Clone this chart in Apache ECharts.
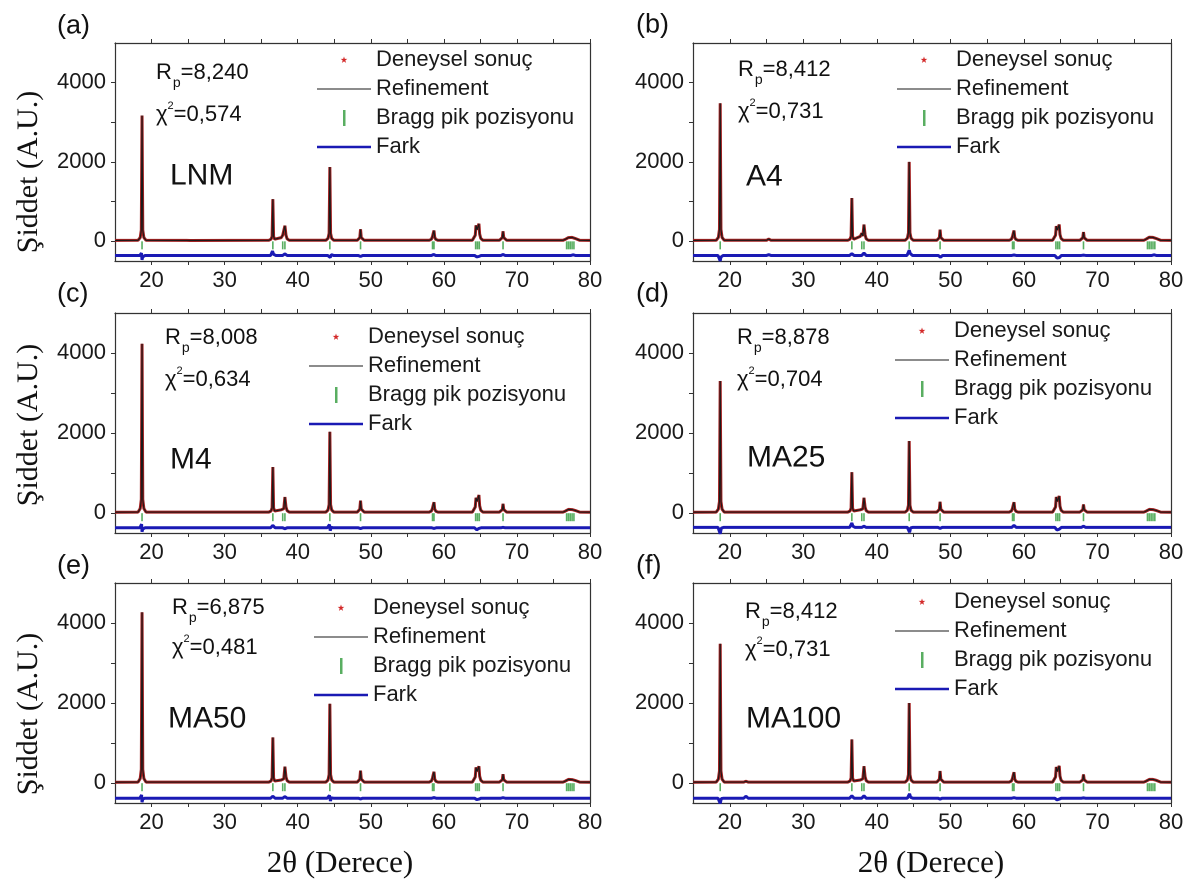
<!DOCTYPE html>
<html>
<head>
<meta charset="utf-8">
<script src="https://cdn.jsdelivr.net/npm/echarts@6/dist/echarts.min.js"></script>
<style>html,body{margin:0;padding:0;background:#fff}#chart{width:1187px;height:881px}</style>
</head>
<body>
<div id="chart"></div>
<script>
// ---------------- data ----------------
const xTickLabels = [20, 30, 40, 50, 60, 70, 80];
const xTickMarks = [20, 25, 30, 35, 40, 45, 50, 55, 60, 65, 70, 75, 80];
const yTickLabels = [0, 2000, 4000];
const yTickMarks = [0, 1000, 2000, 3000, 4000];
const xRange = [15, 80];
const yRange = [-500, 5000];

const legendNames = ['Deneysel sonuç', 'Refinement', 'Bragg pik pozisyonu', 'Fark'];
const panelLetters = ['(a)', '(b)', '(c)', '(d)', '(e)', '(f)'];
const sampleNames = ['LNM', 'A4', 'M4', 'MA25', 'MA50', 'MA100'];
const rpValues = ['8,240', '8,412', '8,008', '8,878', '6,875', '8,412'];
const chi2Values = ['0,574', '0,731', '0,634', '0,704', '0,481', '0,731'];

const braggPositions = [18.7, 36.6, 37.95, 38.25, 44.4, 48.6, 58.45, 58.65, 64.35, 64.6, 64.85, 68.1, 76.8, 77.05, 77.3, 77.55, 77.8];
const braggLevel = -105;

const profileLNM = [
  [15,20],
  [18.15,22],[18.45,90],[18.6,280],[18.7,3170],[18.8,280],[18.95,90],[19.25,22],
  [24.8,20],[25.3,18],
  [36.05,22],[36.35,50],[36.5,120],[36.6,1060],[36.7,120],[36.85,50],
  [37.75,90],[37.95,150],[38.1,110],[38.25,390],[38.4,150],[38.55,60],[38.85,22],
  [43.85,22],[44.15,70],[44.3,200],[44.4,1870],[44.5,200],[44.65,70],[44.95,22],
  [48.15,22],[48.4,45],[48.5,90],[48.6,300],[48.7,90],[48.85,45],[49.1,22],
  [58.0,22],[58.3,50],[58.45,120],[58.55,200],[58.65,270],[58.75,100],[58.9,45],[59.2,22],
  [63.9,22],[64.15,60],[64.3,150],[64.4,400],[64.55,290],[64.65,350],[64.8,440],[64.9,180],[65.05,70],[65.35,22],
  [67.6,22],[67.85,45],[68.0,90],[68.1,250],[68.2,90],[68.35,45],[68.6,22],
  [76.3,22],[76.6,45],[76.85,80],[77.05,90],[77.3,75],[77.55,95],[77.75,110],[77.95,70],[78.2,40],[78.6,22],
  [80,20]
];
const profileA4 = [
  [15,20],
  [18.15,22],[18.45,95],[18.6,300],[18.7,3480],[18.8,300],[18.95,95],[19.25,22],
  [25.0,22],[25.3,55],[25.6,22],
  [36.05,22],[36.35,50],[36.5,125],[36.6,1090],[36.7,125],[36.85,50],
  [37.75,120],[37.95,200],[38.1,130],[38.25,420],[38.4,160],[38.55,60],[38.85,22],
  [43.85,22],[44.15,75],[44.3,210],[44.4,2000],[44.5,210],[44.65,75],[44.95,22],
  [48.15,22],[48.4,45],[48.5,90],[48.6,290],[48.7,90],[48.85,45],[49.1,22],
  [58.0,22],[58.3,50],[58.45,120],[58.55,200],[58.65,270],[58.75,100],[58.9,45],[59.2,22],
  [63.9,22],[64.15,60],[64.3,150],[64.4,380],[64.55,280],[64.65,330],[64.8,420],[64.9,170],[65.05,70],[65.35,22],
  [67.6,22],[67.85,45],[68.0,85],[68.1,230],[68.2,85],[68.35,45],[68.6,22],
  [76.3,22],[76.6,50],[76.85,85],[77.05,100],[77.3,80],[77.55,95],[77.75,110],[77.95,70],[78.2,40],[78.6,22],
  [80,20]
];
const profileM4 = [
  [15,20],
  [18.15,22],[18.45,110],[18.6,340],[18.7,4230],[18.8,340],[18.95,110],[19.25,22],
  [36.05,22],[36.35,50],[36.5,130],[36.6,1150],[36.7,130],[36.85,50],
  [37.75,80],[37.95,130],[38.1,110],[38.25,400],[38.4,150],[38.55,60],[38.85,22],
  [43.85,22],[44.15,75],[44.3,210],[44.4,2030],[44.5,210],[44.65,75],[44.95,22],
  [48.15,22],[48.4,45],[48.5,95],[48.6,310],[48.7,95],[48.85,45],[49.1,22],
  [58.0,22],[58.3,50],[58.45,120],[58.55,200],[58.65,270],[58.75,100],[58.9,45],[59.2,22],
  [63.9,22],[64.15,60],[64.3,150],[64.4,380],[64.55,290],[64.65,350],[64.8,450],[64.9,180],[65.05,70],[65.35,22],
  [67.6,22],[67.85,45],[68.0,85],[68.1,230],[68.2,85],[68.35,45],[68.6,22],
  [76.3,22],[76.6,45],[76.85,75],[77.05,90],[77.3,72],[77.55,85],[77.75,100],[77.95,65],[78.2,40],[78.6,22],
  [80,20]
];
const profileMA25 = [
  [15,20],
  [18.15,22],[18.45,95],[18.6,290],[18.7,3300],[18.8,290],[18.95,95],[19.25,22],
  [36.05,22],[36.35,50],[36.5,120],[36.6,1020],[36.7,120],[36.85,50],
  [37.75,80],[37.95,130],[38.1,105],[38.25,380],[38.4,145],[38.55,60],[38.85,22],
  [43.85,22],[44.15,70],[44.3,195],[44.4,1800],[44.5,195],[44.65,70],[44.95,22],
  [48.15,22],[48.4,45],[48.5,90],[48.6,280],[48.7,90],[48.85,45],[49.1,22],
  [58.0,22],[58.3,50],[58.45,120],[58.55,200],[58.65,270],[58.75,100],[58.9,45],[59.2,22],
  [63.9,22],[64.15,60],[64.3,150],[64.4,400],[64.55,290],[64.65,340],[64.8,425],[64.9,170],[65.05,70],[65.35,22],
  [67.6,22],[67.85,45],[68.0,80],[68.1,215],[68.2,80],[68.35,45],[68.6,22],
  [76.3,22],[76.6,45],[76.85,75],[77.05,90],[77.3,72],[77.55,85],[77.75,100],[77.95,65],[78.2,40],[78.6,22],
  [80,20]
];
const profileMA50 = [
  [15,20],
  [18.15,22],[18.45,110],[18.6,340],[18.7,4270],[18.8,340],[18.95,110],[19.25,22],
  [36.05,22],[36.35,50],[36.5,130],[36.6,1140],[36.7,130],[36.85,50],
  [37.75,75],[37.95,120],[38.1,105],[38.25,410],[38.4,150],[38.55,60],[38.85,22],
  [43.85,22],[44.15,75],[44.3,210],[44.4,1980],[44.5,210],[44.65,75],[44.95,22],
  [48.15,22],[48.4,45],[48.5,95],[48.6,310],[48.7,95],[48.85,45],[49.1,22],
  [58.0,22],[58.3,50],[58.45,125],[58.55,210],[58.65,280],[58.75,100],[58.9,45],[59.2,22],
  [63.9,22],[64.15,60],[64.3,150],[64.4,390],[64.55,290],[64.65,340],[64.8,420],[64.9,170],[65.05,70],[65.35,22],
  [67.6,22],[67.85,45],[68.0,80],[68.1,220],[68.2,80],[68.35,45],[68.6,22],
  [76.3,22],[76.6,45],[76.85,75],[77.05,90],[77.3,72],[77.55,85],[77.75,100],[77.95,65],[78.2,40],[78.6,22],
  [80,20]
];
const profileMA100 = [
  [15,20],
  [18.15,22],[18.45,95],[18.6,300],[18.7,3480],[18.8,300],[18.95,95],[19.25,22],
  [21.9,22],[22.2,45],[22.5,22],
  [36.05,22],[36.35,50],[36.5,125],[36.6,1090],[36.7,125],[36.85,50],
  [37.75,75],[37.95,120],[38.1,105],[38.25,420],[38.4,155],[38.55,60],[38.85,22],
  [43.85,22],[44.15,75],[44.3,210],[44.4,2000],[44.5,210],[44.65,75],[44.95,22],
  [48.15,22],[48.4,45],[48.5,92],[48.6,300],[48.7,92],[48.85,45],[49.1,22],
  [58.0,22],[58.3,50],[58.45,120],[58.55,200],[58.65,270],[58.75,100],[58.9,45],[59.2,22],
  [63.9,22],[64.15,60],[64.3,150],[64.4,400],[64.55,290],[64.65,345],[64.8,430],[64.9,175],[65.05,70],[65.35,22],
  [67.6,22],[67.85,45],[68.0,80],[68.1,215],[68.2,80],[68.35,45],[68.6,22],
  [76.3,22],[76.6,45],[76.85,75],[77.05,90],[77.3,75],[77.55,90],[77.75,110],[77.95,70],[78.2,40],[78.6,22],
  [80,20]
];

const diffLNM = [[15,-360],[18.4,-360],[18.62,-300],[18.7,-470],[18.78,-400],[19.1,-360],[36.3,-360],[36.55,-250],[36.7,-330],[37.0,-360],[37.95,-360],[38.25,-320],[38.55,-360],[44.1,-360],[44.35,-320],[44.45,-410],[44.6,-340],[44.9,-360],[48.3,-360],[48.6,-385],[48.9,-360],[58.3,-360],[58.6,-335],[58.9,-360],[64.2,-360],[64.5,-395],[64.8,-385],[65.1,-360],[67.8,-360],[68.1,-335],[68.4,-360],[77.4,-360],[77.7,-345],[78.0,-360],[80,-360]];
const diffA4 = [[15,-360],[18.4,-360],[18.62,-310],[18.7,-500],[18.8,-400],[19.1,-360],[25.0,-360],[25.3,-340],[25.6,-360],[36.3,-360],[36.6,-315],[36.9,-360],[37.95,-360],[38.25,-300],[38.55,-360],[44.1,-360],[44.4,-230],[44.55,-310],[44.85,-360],[48.35,-360],[48.65,-405],[48.95,-360],[58.35,-360],[58.65,-348],[58.95,-360],[64.2,-360],[64.5,-425],[64.8,-415],[65.1,-360],[67.8,-360],[68.1,-352],[68.4,-360],[77.4,-360],[77.7,-345],[78.0,-360],[80,-360]];
const diffM4 = [[15,-370],[18.4,-370],[18.64,-280],[18.7,-470],[18.8,-400],[19.1,-370],[36.3,-370],[36.6,-310],[36.9,-370],[37.95,-370],[38.25,-392],[38.55,-370],[44.05,-370],[44.35,-290],[44.45,-440],[44.6,-360],[44.9,-370],[48.3,-370],[48.6,-388],[48.9,-370],[58.35,-370],[58.65,-385],[58.95,-370],[64.2,-370],[64.5,-420],[64.8,-385],[65.1,-370],[67.8,-370],[68.1,-358],[68.4,-370],[80,-370]];
const diffMA25 = [[15,-360],[18.4,-360],[18.62,-320],[18.7,-520],[18.85,-380],[19.15,-360],[36.3,-360],[36.6,-250],[36.75,-330],[37.05,-360],[37.95,-360],[38.25,-330],[38.55,-360],[44.15,-360],[44.45,-480],[44.6,-370],[44.9,-360],[48.3,-360],[48.6,-385],[48.9,-360],[58.35,-360],[58.65,-310],[58.95,-360],[64.2,-360],[64.5,-425],[64.8,-405],[65.1,-360],[67.8,-360],[68.1,-330],[68.4,-360],[80,-360]];
const diffMA50 = [[15,-380],[18.4,-380],[18.64,-300],[18.7,-480],[18.8,-400],[19.1,-380],[36.3,-380],[36.6,-330],[36.9,-380],[37.95,-380],[38.25,-340],[38.55,-380],[44.05,-380],[44.35,-310],[44.48,-450],[44.6,-370],[44.9,-380],[48.3,-380],[48.6,-398],[48.9,-380],[58.35,-380],[58.65,-366],[58.95,-380],[64.2,-380],[64.5,-414],[64.8,-402],[65.1,-380],[67.8,-380],[68.1,-368],[68.4,-380],[80,-380]];
const diffMA100 = [[15,-380],[18.4,-380],[18.64,-330],[18.7,-510],[18.85,-390],[19.15,-380],[21.9,-380],[22.2,-330],[22.5,-380],[36.3,-380],[36.6,-320],[36.9,-380],[37.95,-380],[38.25,-320],[38.55,-380],[44.15,-380],[44.45,-270],[44.6,-360],[44.9,-380],[48.3,-380],[48.6,-402],[48.9,-380],[58.35,-380],[58.65,-368],[58.95,-380],[64.2,-380],[64.5,-422],[64.8,-402],[65.1,-380],[67.8,-380],[68.1,-373],[68.4,-380],[80,-380]];

const profiles = [profileLNM, profileA4, profileM4, profileMA25, profileMA50, profileMA100];
const diffs = [diffLNM, diffA4, diffM4, diffMA25, diffMA50, diffMA100];

// ---------------- layout ----------------
const layout = [
  {left:115, top:43,  width:475, height:218, legend:[317,49],  rp:[156,73],  chi:[156,115], name:[170,176], letter:[57,26]},
  {left:693, top:43,  width:478, height:218, legend:[897,49],  rp:[738,70],  chi:[738,112], name:[746,177], letter:[636,25]},
  {left:115, top:313, width:475, height:220, legend:[309,326], rp:[165,338], chi:[165,380], name:[170,460], letter:[57,294]},
  {left:693, top:313, width:478, height:220, legend:[895,320], rp:[737,338], chi:[737,380], name:[747,458], letter:[636,294]},
  {left:115, top:583, width:475, height:220, legend:[314,597], rp:[172,608], chi:[172,648], name:[168,719], letter:[57,566]},
  {left:693, top:583, width:478, height:220, legend:[895,591], rp:[745,612], chi:[745,650], name:[746,719], letter:[636,566]}
];

const SANS = '"Liberation Sans", Arial, sans-serif';
const SERIF = '"Liberation Serif", "Times New Roman", serif';
const AXIS_COLOR = '#333';
const OBS_LINE = '#a32020';
const OBS_STAR = '#d42a2a';
const CALC = '#1a1a1a';
const BRAGG = '#2f9a3a';
const DIFF = '#1a1ab4';

const legendIcons = [
  'path://M0,0M54,16M27,4.5L27.82,6.87L30.33,6.92L28.33,8.43L29.06,10.83L27,9.4L24.94,10.83L25.67,8.43L23.67,6.92L26.18,6.87Z',
  'path://M0,0M54,16M0,7.5L54,7.5L54,8.5L0,8.5Z',
  'path://M0,0M54,16M26,0L28.5,0L28.5,16L26,16Z',
  'path://M0,0M54,16M0,6.8L54,6.8L54,9.2L0,9.2Z'
];
const legendIconColors = [OBS_STAR, CALC, BRAGG, DIFF];

const grids = [], xAxes = [], yAxes = [], series = [], legends = [], graphics = [];

layout.forEach((L, i) => {
  grids.push({left: L.left, top: L.top, width: L.width, height: L.height, containLabel: false});
  xAxes.push({
    type: 'value', gridIndex: i, position: 'bottom', min: xRange[0], max: xRange[1], interval: 5,
    axisLine: {show: true, onZero: false, lineStyle: {color: AXIS_COLOR, width: 1.2}},
    axisTick: {show: true, inside: false, length: 4, customValues: xTickMarks, lineStyle: {color: AXIS_COLOR}},
    axisLabel: {show: true, customValues: xTickLabels, margin: 9, fontFamily: SANS, fontSize: 22, color: '#1a1a1a', formatter: v => String(v)},
    splitLine: {show: false}
  });
  xAxes.push({
    type: 'value', gridIndex: i, position: 'top', min: xRange[0], max: xRange[1], interval: 5,
    axisLine: {show: true, onZero: false, lineStyle: {color: AXIS_COLOR, width: 1.2}},
    axisTick: {show: true, inside: false, length: 4, customValues: xTickMarks, lineStyle: {color: AXIS_COLOR}},
    axisLabel: {show: false},
    splitLine: {show: false}
  });
  yAxes.push({
    type: 'value', gridIndex: i, position: 'left', min: yRange[0], max: yRange[1], interval: 500,
    axisLine: {show: true, onZero: false, lineStyle: {color: AXIS_COLOR, width: 1.2}},
    axisTick: {show: true, inside: false, length: 4, customValues: yTickMarks, lineStyle: {color: AXIS_COLOR}},
    axisLabel: {show: true, customValues: yTickLabels, margin: 9, fontFamily: SANS, fontSize: 22, color: '#1a1a1a', formatter: v => String(v)},
    splitLine: {show: false}
  });
  yAxes.push({
    type: 'value', gridIndex: i, position: 'right', min: yRange[0], max: yRange[1], interval: 500,
    axisLine: {show: true, onZero: false, lineStyle: {color: AXIS_COLOR, width: 1.2}},
    axisTick: {show: false}, axisLabel: {show: false}, splitLine: {show: false}
  });

  const xi = 2 * i, yi = 2 * i;
  series.push({
    name: legendNames[0], type: 'line', xAxisIndex: xi, yAxisIndex: yi, data: profiles[i],
    symbol: 'none', z: 2, silent: true,
    itemStyle: {color: OBS_STAR},
    lineStyle: {color: OBS_LINE, width: 3}
  });
  series.push({
    name: legendNames[1], type: 'line', xAxisIndex: xi, yAxisIndex: yi, data: profiles[i],
    symbol: 'none', z: 3, silent: true,
    itemStyle: {color: CALC},
    lineStyle: {color: CALC, width: 1.1}
  });
  series.push({
    name: legendNames[2], type: 'scatter', xAxisIndex: xi, yAxisIndex: yi,
    data: braggPositions.map(p => [p, braggLevel]),
    symbol: 'rect', symbolSize: [1.6, 8], z: 4, silent: true,
    itemStyle: {color: BRAGG}
  });
  series.push({
    name: legendNames[3], type: 'line', xAxisIndex: xi, yAxisIndex: yi, data: diffs[i],
    symbol: 'none', z: 2, silent: true,
    itemStyle: {color: DIFF},
    lineStyle: {color: DIFF, width: 3}
  });

  legends.push({
    orient: 'vertical', left: L.legend[0], top: L.legend[1], padding: 0,
    itemWidth: 54, itemHeight: 16, itemGap: 7, selectedMode: false,
    itemStyle: {borderWidth: 0},
    textStyle: {fontFamily: SANS, fontSize: 22, color: '#1a1a1a', lineHeight: 22},
    data: legendNames.map((n, k) => ({name: n, icon: legendIcons[k], itemStyle: {color: legendIconColors[k], borderWidth: 0}}))
  });

  graphics.push({
    type: 'text', x: L.letter[0], y: L.letter[1],
    style: {text: panelLetters[i], font: '27px ' + SANS, fill: '#111', align: 'left', verticalAlign: 'middle'}
  });
  graphics.push({
    type: 'text', x: L.rp[0], y: L.rp[1],
    style: {
      text: '{m|R}{s|p}{m|=' + rpValues[i] + '}', align: 'left', verticalAlign: 'middle',
      rich: {
        m: {fontFamily: SANS, fontSize: 22, fill: '#111'},
        s: {fontFamily: SANS, fontSize: 14, fill: '#111', padding: [20, 0, 0, 1]}
      }
    }
  });
  graphics.push({
    type: 'text', x: L.chi[0], y: L.chi[1],
    style: {
      text: '{m|χ}{s|2}{m|=' + chi2Values[i] + '}', align: 'left', verticalAlign: 'middle',
      rich: {
        m: {fontFamily: SANS, fontSize: 22, fill: '#111'},
        s: {fontFamily: SANS, fontSize: 11, fill: '#111', padding: [0, 0, 18, 0]}
      }
    }
  });
  graphics.push({
    type: 'text', x: L.name[0], y: L.name[1],
    style: {text: sampleNames[i], font: '30px ' + SANS, fill: '#111', align: 'left', verticalAlign: 'middle'}
  });
});

[172, 425, 714].forEach(cy => {
  graphics.push({
    type: 'text', x: 29, y: cy, rotation: Math.PI / 2,
    style: {text: 'Şiddet (A.U.)', font: '30px ' + SERIF, fill: '#111', align: 'center', verticalAlign: 'middle'}
  });
});
[340, 931].forEach(cx => {
  graphics.push({
    type: 'text', x: cx, y: 864,
    style: {text: '2θ (Derece)', font: '31px ' + SERIF, fill: '#111', align: 'center', verticalAlign: 'middle'}
  });
});

const chart = echarts.init(document.getElementById('chart'), null, {renderer: 'canvas', devicePixelRatio: 2});
chart.setOption({
  animation: false,
  backgroundColor: '#ffffff',
  grid: grids,
  xAxis: xAxes,
  yAxis: yAxes,
  legend: legends,
  series: series,
  graphic: graphics
});
</script>
</body>
</html>
